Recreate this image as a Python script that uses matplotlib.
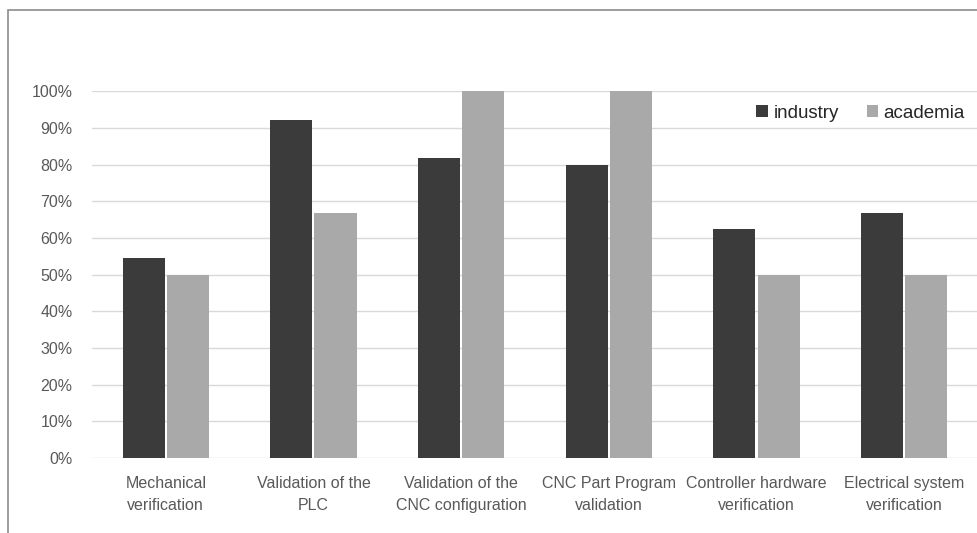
import numpy as np
import matplotlib
matplotlib.use("Agg")
import matplotlib.pyplot as plt
from matplotlib.patches import Rectangle

plt.rcParams['font.family'] = ['Liberation Sans', 'DejaVu Sans']

# Share of respondents per verification activity
categories = ["Mechanical\nverification", "Validation of the\nPLC",
              "Validation of the\nCNC configuration", "CNC Part Program\nvalidation",
              "Controller hardware\nverification", "Electrical system\nverification"]
industry = [0.545, 0.923, 0.818, 0.80, 0.625, 0.667]
academia = [0.50, 0.667, 1.00, 1.00, 0.50, 0.50]
yticks = np.arange(0, 1.01, 0.1)

fig = plt.figure(figsize=(9.78, 5.33), dpi=100)
ax = fig.add_axes([0.094, 0.1407, 0.906, 0.688])

# outer frame of the chart area
fig.patches.append(Rectangle((8 / 978, -0.05), 1.05, 1 - 10 / 533 + 0.05,
                             transform=fig.transFigure, fill=False,
                             edgecolor="#8c8c8c", linewidth=1.2))

x = np.arange(len(categories))
w = 0.285
ax.bar(x - w / 2 - 0.007, industry, width=w, color="#3b3b3b", label="industry", zorder=3)
ax.bar(x + w / 2 + 0.007, academia, width=w, color="#a9a9a9", label="academia", zorder=3)

ax.set_xlim(-0.5, 5.5)
ax.set_ylim(0, 1.0)
ax.set_yticks(yticks)
ax.set_yticklabels([f"{int(round(v * 100))}%" for v in yticks], fontsize=11.5, color="#595959")
ax.set_xticks(x)
ax.set_xticklabels(categories, fontsize=11.5, color="#595959", linespacing=1.6)
ax.tick_params(axis="both", length=0)
ax.tick_params(axis="y", pad=14)
ax.tick_params(axis="x", pad=13)
ax.yaxis.grid(True, color="#d9d9d9", linewidth=1, zorder=0)
ax.set_axisbelow(True)
for s in ax.spines.values():
    s.set_visible(False)

ax.legend(loc="upper right", bbox_to_anchor=(1.004, 0.835), bbox_transform=fig.transFigure,
          ncol=2, frameon=False, fontsize=13.5, handlelength=0.6, handleheight=0.6,
          handletextpad=0.3, columnspacing=1.5, labelcolor="#262626")

fig.savefig("out.png", dpi=100)
